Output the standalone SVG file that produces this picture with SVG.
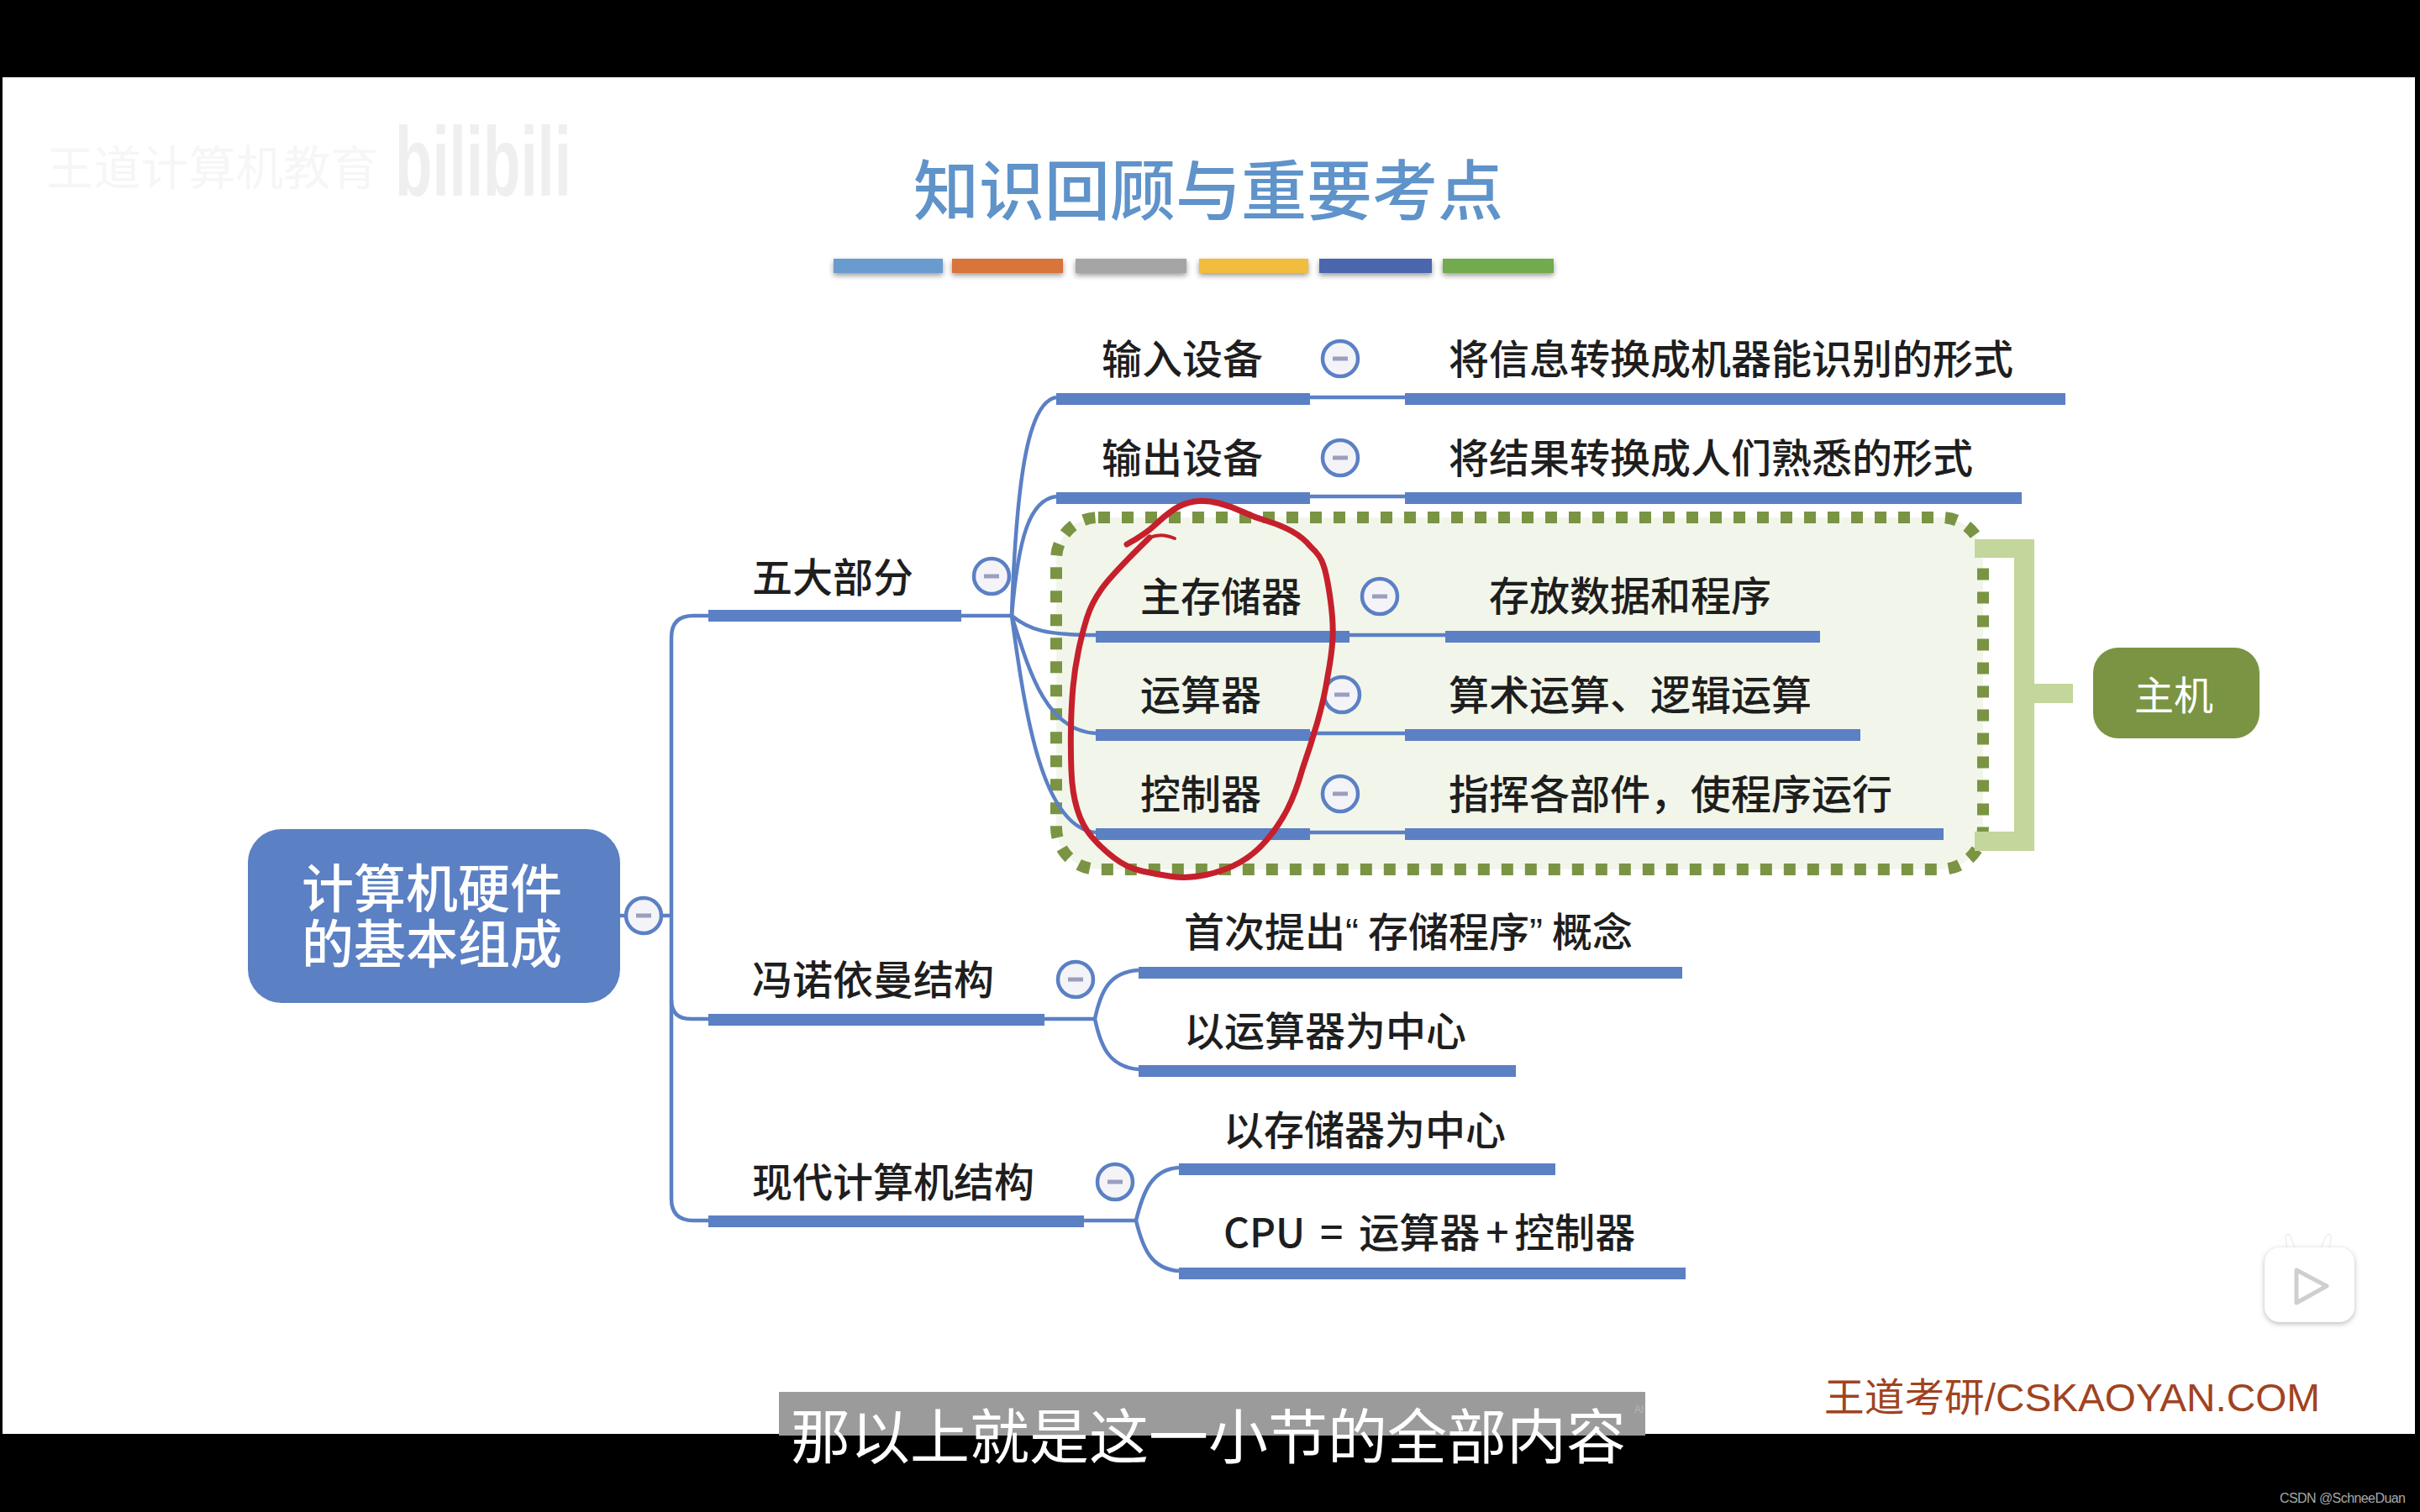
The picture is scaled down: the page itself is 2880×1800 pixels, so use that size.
<svg xmlns="http://www.w3.org/2000/svg" width="2880" height="1800" viewBox="0 0 2880 1800">
<defs>
<style>
text{font-family:"Noto Sans CJK SC","Liberation Sans",sans-serif}
.lbl{font-size:48px;fill:#1e1e1e;font-weight:500}
.bar{fill:#5b80c4}
.thin{fill:none;stroke:#5b80c4;stroke-width:4.5}
.tog{fill:#f4f4f8;stroke:#5b80c4;stroke-width:4.5}
.min{stroke:#9a9fc0;stroke-width:5}
.cb{filter:drop-shadow(0 3px 3px #999)}
.lat{font-family:"Liberation Sans",sans-serif}
</style>
<g id="t"><circle class="tog" r="21"/><line class="min" x1="-9" x2="9"/></g>
</defs>
<rect width="2880" height="1800" fill="#000"/>
<rect x="3" y="92" width="2871" height="1615" fill="#fff"/>
<g id="watermark">
<text x="55" y="220" font-size="56" fill="#f6f6f6" textLength="395" lengthAdjust="spacingAndGlyphs">王道计算机教育</text>
<text x="470" y="233" font-size="116" font-weight="700" fill="#efefef" class="lat" textLength="210" lengthAdjust="spacingAndGlyphs">bilibili</text>
</g>
<g id="title">
<text x="1087" y="256" font-size="78" fill="#5f93c9" font-weight="500">知识回顾与重要考点</text>
<rect class="cb" x="992" y="308" width="130" height="17" fill="#6a9bcf"/>
<rect class="cb" x="1133" y="308" width="132" height="17" fill="#d9743a"/>
<rect class="cb" x="1280" y="308" width="132" height="17" fill="#a5a5a5"/>
<rect class="cb" x="1427" y="308" width="130" height="17" fill="#f2bd3c"/>
<rect class="cb" x="1570" y="308" width="134" height="17" fill="#4a66ac"/>
<rect class="cb" x="1717" y="308" width="132" height="17" fill="#72ab4d"/>
</g>
<g id="host-box">
<rect x="1257" y="616" width="1103" height="419" rx="50" fill="#f2f6ea" stroke="#7a9444" stroke-width="14" stroke-dasharray="14 14"/>
</g>
<g id="connectors">
<path class="thin" d="M738 1090H799"/>
<path class="thin" d="M843 733H825Q799 733 799 759V1427Q799 1453 825 1453H843"/>
<path class="thin" d="M799 1190Q799 1213 822 1213H843"/>
<path class="thin" d="M1144 733H1204"/>
<path class="thin" d="M1204 733C1210 560 1225 478 1257 473"/>
<path class="thin" d="M1204 733C1212 640 1225 595 1257 591"/>
<path class="thin" d="M1204 733C1225 750 1245 756 1304 756"/>
<path class="thin" d="M1204 733C1225 800 1245 870 1304 873"/>
<path class="thin" d="M1204 733C1220 850 1240 985 1304 991"/>
<path class="thin" d="M1559 473H1672M1559 591H1672M1606 756H1720M1559 873H1672M1559 991H1672"/>
<path class="thin" d="M1243 1213H1303M1290 1453H1352"/>
<path class="thin" d="M1303 1213C1310 1180 1320 1157 1355 1155M1303 1213C1310 1246 1320 1270 1355 1273"/>
<path class="thin" d="M1352 1453C1360 1420 1370 1392 1403 1390M1352 1453C1360 1486 1370 1511 1403 1513"/>
</g>
<g id="root">
<rect x="295" y="987" width="443" height="207" rx="40" fill="#5b80c4"/>
<text x="514" y="1081" font-size="62" fill="#fff" text-anchor="middle" font-weight="500">计算机硬件</text>
<text x="514" y="1147" font-size="62" fill="#fff" text-anchor="middle" font-weight="500">的基本组成</text>
<use href="#t" x="766" y="1090"/>
</g>
<g id="n-wuda"><rect class="bar" x="843" y="726" width="301" height="14"/><text class="lbl" x="895" y="705">五大部分</text><use href="#t" x="1180" y="686"/></g>
<g id="n-input"><rect class="bar" x="1257" y="468" width="302" height="14"/><text class="lbl" x="1311" y="445">输入设备</text><use href="#t" x="1595" y="427"/></g>
<g id="n-input-d"><rect class="bar" x="1672" y="468" width="786" height="14"/><text class="lbl" x="1724" y="445">将信息转换成机器能识别的形式</text></g>
<g id="n-output"><rect class="bar" x="1257" y="586" width="302" height="14"/><text class="lbl" x="1311" y="563">输出设备</text><use href="#t" x="1595" y="545"/></g>
<g id="n-output-d"><rect class="bar" x="1672" y="586" width="734" height="14"/><text class="lbl" x="1724" y="563">将结果转换成人们熟悉的形式</text></g>
<g id="n-mem"><rect class="bar" x="1304" y="751" width="302" height="14"/><text class="lbl" x="1357" y="728">主存储器</text><use href="#t" x="1642" y="710"/></g>
<g id="n-mem-d"><rect class="bar" x="1720" y="751" width="446" height="14"/><text class="lbl" x="1772" y="727">存放数据和程序</text></g>
<g id="n-alu"><rect class="bar" x="1304" y="868" width="255" height="14"/><text class="lbl" x="1357" y="845">运算器</text><use href="#t" x="1597" y="827"/></g>
<g id="n-alu-d"><rect class="bar" x="1672" y="868" width="542" height="14"/><text class="lbl" x="1724" y="845">算术运算、逻辑运算</text></g>
<g id="n-ctl"><rect class="bar" x="1304" y="986" width="255" height="14"/><text class="lbl" x="1357" y="963">控制器</text><use href="#t" x="1595" y="945"/></g>
<g id="n-ctl-d"><rect class="bar" x="1672" y="986" width="641" height="14"/><text class="lbl" x="1724" y="963">指挥各部件，使程序运行</text></g>
<g id="n-von"><rect class="bar" x="843" y="1207" width="400" height="14"/><text class="lbl" x="895" y="1184">冯诺依曼结构</text><use href="#t" x="1280" y="1166"/></g>
<g id="n-von-1"><rect class="bar" x="1355" y="1151" width="647" height="14"/><text class="lbl" x="1409" y="1127">首次提出<tspan class="lat">“</tspan><tspan dx="11">存储程序</tspan><tspan class="lat">”</tspan><tspan dx="11">概念</tspan></text></g>
<g id="n-von-2"><rect class="bar" x="1355" y="1268" width="449" height="14"/><text class="lbl" x="1409" y="1245">以运算器为中心</text></g>
<g id="n-mod"><rect class="bar" x="843" y="1447" width="447" height="14"/><text class="lbl" x="895" y="1425">现代计算机结构</text><use href="#t" x="1327" y="1407"/></g>
<g id="n-mod-1"><rect class="bar" x="1403" y="1385" width="448" height="14"/><text class="lbl" x="1456" y="1363">以存储器为中心</text></g>
<g id="n-mod-2"><rect class="bar" x="1403" y="1509" width="603" height="14"/><text class="lbl" x="1456" y="1485">CPU <tspan dx="7">=</tspan> <tspan dx="8">运算器</tspan> <tspan dx="-4">+</tspan> <tspan dx="-4">控制器</tspan></text></g>
<g id="bracket">
<path fill="#c3d69b" d="M2350 642H2421V814H2467V837H2421V1013H2350V990H2397V664H2350Z"/>
</g>
<g id="host">
<rect x="2491" y="771" width="198" height="108" rx="30" fill="#7a9444"/>
<text x="2587" y="845" font-size="47" fill="#fff" text-anchor="middle">主机</text>
</g>
<g id="annotation" fill="none" stroke="#c6202c" stroke-width="7" stroke-linecap="round" stroke-linejoin="round">
<path d="M1368 640Q1323 684 1311 701Q1299 718 1293.5 735.5Q1288 753 1283.5 774.5Q1279 796 1277 818Q1275 840 1274.5 866Q1274 892 1275 918Q1276 944 1282 963.5Q1288 983 1299 996Q1310 1009 1325.5 1021Q1341 1033 1359 1037Q1377 1041 1395 1043.5Q1413 1046 1435 1041.5Q1457 1037 1475 1027Q1493 1017 1507.5 1000Q1522 983 1532 963.5Q1542 944 1550 915.5Q1560 887 1568 859Q1576 831 1580 805Q1585 779 1586 759.5Q1587 740 1583 712Q1579 684 1575 673Q1572 662 1560 651Q1551 640 1537.5 632.5Q1524 625 1508.5 620.5Q1493 616 1479.5 609.5Q1466 603 1450.5 599Q1435 595 1421.5 597Q1408 599 1397 606.5Q1386 614 1374.5 625Q1363 636 1341 648"/>
<path d="M1368 640Q1382 634 1398 641" stroke-width="4"/>
</g>
<g id="brand">
<text x="2171" y="1680" font-size="47" fill="#a0431f" textLength="590" lengthAdjust="spacingAndGlyphs" style="font-family:'Liberation Sans','Noto Sans CJK SC',sans-serif">王道考研/CSKAOYAN.COM</text>
</g>
<g id="play">
<path d="M2722 1490L2720 1472Q2722 1466 2726 1472L2733 1490M2760 1490L2768 1472Q2772 1466 2774 1472L2772 1490" fill="#fff" stroke="#f2f2f2" stroke-width="2"/>
<rect x="2695" y="1485" width="107" height="89" rx="18" fill="#fff" style="filter:drop-shadow(0 2px 3px #bbb)"/>
<path d="M2733 1512L2769 1531L2733 1551Z" fill="#fff" stroke="#cfcfcf" stroke-width="5" stroke-linejoin="round"/>
</g>
<g id="subtitle">
<rect x="927" y="1657" width="1031" height="52" fill="#9b9b9b"/>
<text x="1945" y="1682" font-size="12" fill="#b5b5b5" class="lat">AI</text>
<text x="941" y="1736" font-size="71" fill="#fff">那以上就是这一小节的全部内容</text>
</g>
<text x="2713" y="1789" font-size="16" fill="#a8a8a8" class="lat" textLength="150">CSDN @SchneeDuan</text>
</svg>
